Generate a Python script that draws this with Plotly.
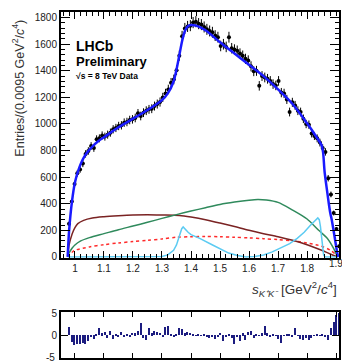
import numpy as np
import plotly.graph_objects as go

# ---------------- data ----------------
bin_width = 0.0095
first_center = 0.97975
counts = [250, 417, 549, 629, 658, 702, 775, 797, 834, 819,
          885, 892, 914, 905, 920, 935, 960, 970, 985, 990,
          1010, 1015, 1030, 1035, 1045, 1080, 1060, 1085, 1100, 1110,
          1115, 1135, 1150, 1165, 1200, 1230, 1260, 1310, 1335, 1405,
          1514, 1660, 1719, 1734, 1740, 1763, 1770, 1755, 1748, 1730,
          1712, 1700, 1690, 1665, 1653, 1587, 1600, 1580, 1653, 1570,
          1560, 1551, 1530, 1514, 1490, 1478, 1434, 1397, 1400, 1287,
          1361, 1350, 1340, 1324, 1300, 1290, 1324, 1236, 1230, 1185,
          1090, 1163, 1140, 1100, 1090, 1039, 1000, 995, 929, 910,
          892, 860, 819, 790, 592, 470, 330, 210, 80]

residuals = [1.9, -1.6, -2.2, -2.0, -2.1, -1.7, -2.0, -1.4, -0.4, -0.8,
             0.3, 1.5, 0.4, 0.6, -0.7, 1.0, -0.8, 0.2, -0.4, 0.6,
             -0.3, 0.3, -0.5, 0.5, 0.4, 0.9, 2.7, -0.6, -1.0, 1.5,
             0.4, 1.0, 0.7, 0.5, -0.3, 1.8, 2.0, 0.3, -0.3, 0.2,
             1.6, 1.3, 0.4, 0.8, 0.5, 0.2, -0.2, 0.1, -0.1, 0.2,
             -0.4, -0.6, -0.5, -0.8, -0.4, 0.5, -1.3, -0.3, 0.2, -0.6,
             -2.0, -0.5, -1.4, 0.4, -1.2, 0.6, 1.0, -0.6, 0.3, -0.2,
             0.4, 2.0, 0.4, -0.3, 0.2, -0.2, -0.8, -1.8, -0.2, 0.1,
             0.3, -0.4, 1.5, -0.2, -0.8, -1.0, -0.6, -1.0, -0.7, -0.2,
             0.2, -0.1, 0.3, -0.4, -1.2, 1.5, 3.0, 4.5, 5.0]

x_tickvals = [1.0, 1.1, 1.2, 1.3, 1.4, 1.5, 1.6, 1.7, 1.8, 1.9]
x_ticktext = ["1", "1.1", "1.2", "1.3", "1.4", "1.5", "1.6", "1.7", "1.8", "1.9"]

# total fit curve
fit_s = [0.975, 0.98, 0.99, 1.0, 1.01, 1.02, 1.03, 1.04, 1.06, 1.08, 1.10,
         1.15, 1.20, 1.25, 1.30, 1.32, 1.34, 1.35, 1.36, 1.37, 1.38, 1.39,
         1.40, 1.42, 1.45, 1.50, 1.55, 1.60, 1.65, 1.70, 1.75, 1.80, 1.83,
         1.85, 1.855, 1.86, 1.865, 1.87, 1.875, 1.88, 1.885, 1.89, 1.895,
         1.90, 1.905, 1.908]
fit_v = [0, 200, 420, 560, 640, 700, 745, 780, 830, 870, 900,
         975, 1040, 1105, 1180, 1230, 1320, 1410, 1520, 1630, 1705, 1738,
         1745, 1738, 1705, 1615, 1530, 1445, 1360, 1260, 1150, 1005, 910,
         840, 790, 650, 560, 480, 400, 330, 280, 215, 150,
         80, 20, 0]

# components
brown_s = [0.975, 0.98, 0.99, 1.0, 1.01, 1.03, 1.06, 1.10, 1.15, 1.20, 1.25,
           1.30, 1.36, 1.40, 1.45, 1.50, 1.55, 1.60, 1.65, 1.70, 1.75, 1.80,
           1.85, 1.88, 1.905]
brown_v = [0, 90, 170, 220, 250, 275, 292, 302, 310, 316, 318,
           316, 312, 300, 280, 255, 228, 200, 175, 152, 125, 92,
           50, 22, 0]

green_s = [0.975, 0.98, 0.99, 1.0, 1.02, 1.05, 1.10, 1.15, 1.20, 1.25, 1.30,
           1.35, 1.40, 1.45, 1.50, 1.55, 1.60, 1.63, 1.66, 1.70, 1.75, 1.80,
           1.84, 1.87, 1.89, 1.905]
green_v = [0, 30, 65, 90, 120, 145, 175, 205, 232, 260, 290,
           318, 345, 370, 395, 413, 427, 432, 428, 410, 352, 285,
           200, 139, 70, 0]

red_s = [0.975, 0.98, 0.99, 1.0, 1.05, 1.10, 1.15, 1.20, 1.25, 1.30, 1.35,
         1.40, 1.45, 1.50, 1.55, 1.60, 1.65, 1.70, 1.75, 1.80, 1.85, 1.88,
         1.90, 1.905]
red_v = [0, 15, 35, 50, 75, 92, 105, 115, 125, 135, 148,
         152, 153, 152, 148, 143, 137, 130, 120, 105, 80, 50,
         15, 0]

cyan_s = [0.975, 1.28, 1.30, 1.32, 1.34, 1.35, 1.36, 1.368, 1.373, 1.38,
          1.39, 1.40, 1.43, 1.476, 1.50, 1.53, 1.56, 1.59, 1.62, 1.65,
          1.68, 1.707, 1.74, 1.766, 1.79, 1.81, 1.83, 1.837, 1.842, 1.846,
          1.851, 1.857, 1.862, 1.908]
cyan_v = [0, 0, 3, 15, 50, 90, 160, 212, 225, 205,
          185, 168, 139, 88, 60, 29, 10, 0, 3, 15,
          38, 66, 100, 139, 185, 234, 280, 293, 280, 230,
          130, 15, 0, 0]

# ---------------- figure ----------------
centers = first_center + bin_width * np.arange(len(counts))
counts_arr = np.array(counts, dtype=float)
errors = np.sqrt(counts_arr)

fig = go.Figure()

def comp(xs, ys, color, dash="solid", width=1.5, shape="spline"):
    fig.add_trace(go.Scatter(x=xs, y=ys, mode="lines",
                             line=dict(color=color, width=width, dash=dash,
                                       shape=shape, smoothing=0.8),
                             xaxis="x", yaxis="y", hoverinfo="skip"))

comp(red_s, red_v, "#ff2a2a", dash="dot", width=1.5)
comp(brown_s, brown_v, "#7a2323", width=1.5)
comp(green_s, green_v, "#2f8a5c", width=1.5)
comp(cyan_s, cyan_v, "#5ccbf2", width=1.5, shape="linear")

fig.add_trace(go.Scatter(
    x=centers, y=counts_arr, mode="markers",
    marker=dict(color="black", size=4),
    error_y=dict(type="data", array=errors, color="black", thickness=1, width=0),
    error_x=dict(type="constant", value=bin_width / 2, color="black", thickness=1, width=0),
    xaxis="x", yaxis="y", hoverinfo="skip"))

comp(fit_s, fit_v, "#1a1aff", width=2.5)

fig.add_trace(go.Bar(x=centers, y=residuals, width=bin_width * 0.5,
                     marker=dict(color="#1c1c80", line=dict(width=0)),
                     xaxis="x2", yaxis="y2", hoverinfo="skip"))

W, H = 342, 363
xdom = [61 / W, 339 / W]
font_family = "Liberation Sans, Arial, sans-serif"
tickfont = dict(family=font_family, size=10, color="#222")

fig.update_layout(
    width=W, height=H, margin=dict(l=0, r=0, t=0, b=0),
    paper_bgcolor="white", plot_bgcolor="white", showlegend=False,
    bargap=0,
    xaxis=dict(domain=xdom, range=[0.952, 1.910], anchor="y",
               tickvals=x_tickvals[:-1], ticktext=x_ticktext[:-1], tickangle=0,
               ticks="inside", ticklen=7, tickwidth=1,
               tickcolor="black", showline=True, linecolor="black", linewidth=2,
               mirror="ticks", showgrid=False, zeroline=False,
               tickfont=tickfont,
               minor=dict(dtick=0.02, tick0=1.0, ticks="inside", ticklen=4,
                          tickcolor="black", showgrid=False)),
    yaxis=dict(domain=[(H - 260) / H, (H - 7) / H], range=[-7, 1844], anchor="x",
               dtick=200, tick0=0, ticks="inside", ticklen=9, tickwidth=1,
               tickcolor="black", showline=True, linecolor="black", linewidth=2,
               mirror="ticks", showgrid=False, zeroline=False,
               tickfont=tickfont,
               minor=dict(dtick=40, tick0=0, ticks="inside", ticklen=4,
                          tickcolor="black", showgrid=False)),
    xaxis2=dict(domain=xdom, range=[0.952, 1.910], anchor="y2",
                tickvals=x_tickvals, ticks="inside", ticklen=5,
                tickcolor="black", showline=True, linecolor="black", linewidth=2,
                mirror="ticks", showgrid=False, zeroline=False,
                showticklabels=False),
    yaxis2=dict(domain=[0, (H - 316) / H], range=[-5.1, 5.2], anchor="x2",
                tickvals=[0, 5], ticktext=["0", "5"],
                ticks="inside", ticklen=7, tickcolor="black",
                showline=True, linecolor="black", linewidth=2, mirror="ticks",
                showgrid=False, zeroline=False, tickfont=tickfont),
)

# last x tick label sits at the window edge (cut, as in the reference)
fig.add_annotation(xref="x", yref="paper", x=x_tickvals[-1], y=(H - 266) / H,
                   text=x_ticktext[-1], showarrow=False, xanchor="center", yanchor="middle",
                   font=tickfont)
fig.add_annotation(xref="paper", yref="paper", x=57 / W, y=(H - 362) / H,
                   text="-5", showarrow=False, xanchor="right", yanchor="middle",
                   font=tickfont)
fig.add_annotation(xref="paper", yref="paper", x=18 / W, y=(H - 86) / H,
                   text="Entries/(0.0095 GeV<sup>2</sup>/<i>c</i><sup>4</sup>)",
                   textangle=-90, showarrow=False, xanchor="center", yanchor="middle",
                   font=dict(family=font_family, size=12.5, color="#333"))
fig.add_annotation(xref="paper", yref="paper", x=339 / W, y=(H - 292) / H,
                   text="<i>s</i><sub><i>K⁺K⁻</i></sub> [GeV<sup>2</sup>/<i>c</i><sup>4</sup>]",
                   showarrow=False, xanchor="right", yanchor="middle",
                   font=dict(family=font_family, size=13.5, color="#333"))
fig.add_annotation(xref="paper", yref="paper", x=74 / W, y=(H - 42) / H,
                   text="<b>LHCb</b>", showarrow=False, xanchor="left", yanchor="middle",
                   font=dict(family=font_family, size=14, color="black"))
fig.add_annotation(xref="paper", yref="paper", x=74 / W, y=(H - 58) / H,
                   text="<b>Preliminary</b>", showarrow=False, xanchor="left", yanchor="middle",
                   font=dict(family=font_family, size=13, color="black"))
fig.add_annotation(xref="paper", yref="paper", x=74 / W, y=(H - 73) / H,
                   text="<b>√s = 8 TeV Data</b>", showarrow=False, xanchor="left", yanchor="middle",
                   font=dict(family=font_family, size=8.5, color="black"))

fig.write_html("out.html")
